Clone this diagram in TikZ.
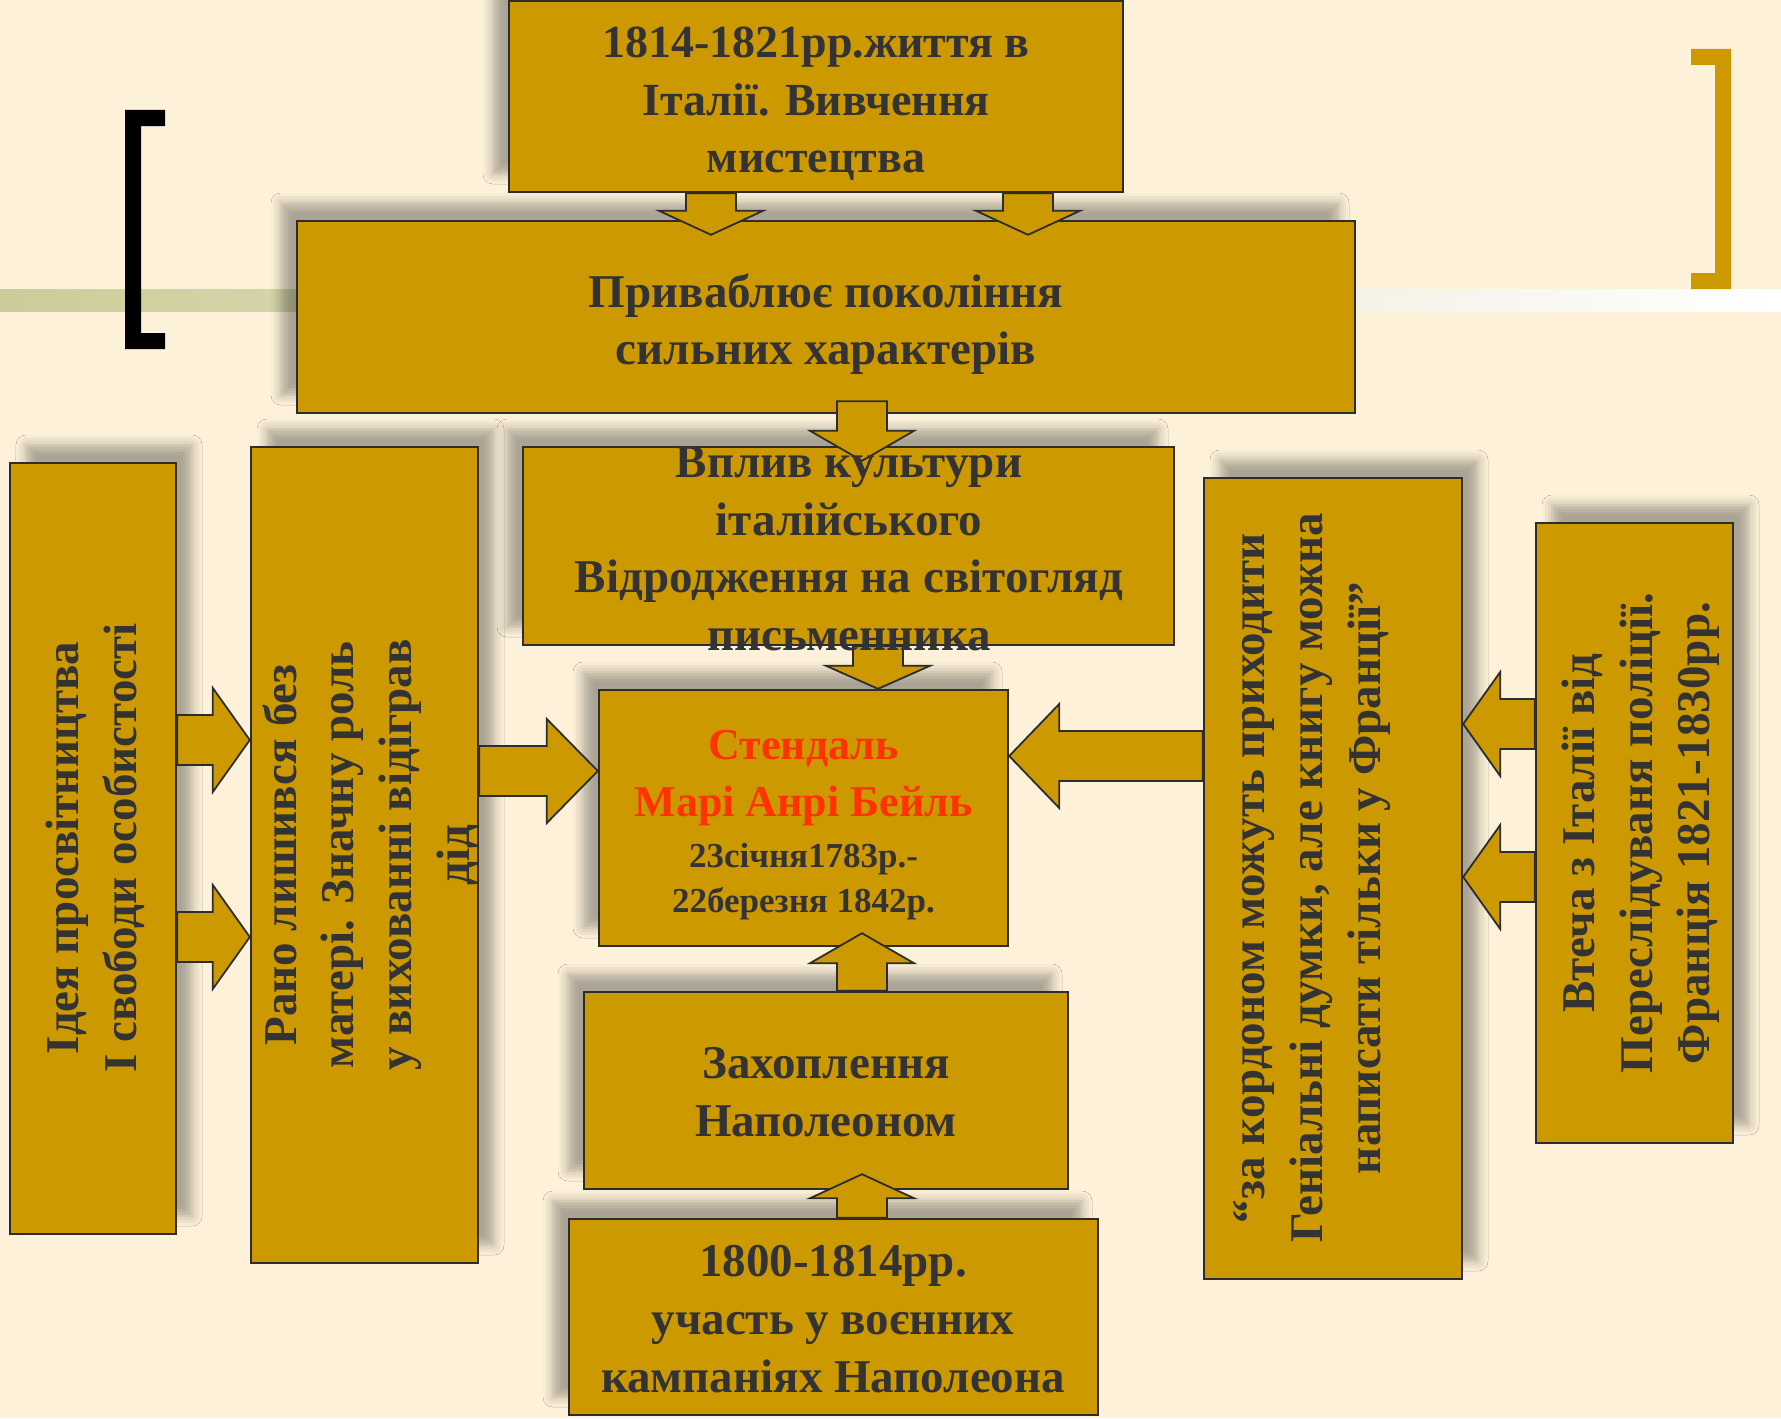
\documentclass[tikz,border=0pt]{standalone}
\usepackage{fontspec}
\setmainfont{Liberation Serif}
\usetikzlibrary{calc,shadows.blur}

\definecolor{bg}{RGB}{253,241,218}
\definecolor{gold}{RGB}{204,153,0}
\definecolor{olive}{RGB}{204,204,153}
\definecolor{ink}{RGB}{51,51,51}
\definecolor{redname}{RGB}{255,51,0}
\definecolor{edge}{RGB}{45,45,45}

\tikzset{
  box/.style={draw=edge, line width=1.2pt, fill=gold, inner sep=0pt, rectangle},
  shL/.style={blur shadow={shadow xshift=-8pt, shadow yshift=9pt, shadow blur radius=5pt, shadow opacity=32}},
  shR/.style={blur shadow={shadow xshift=8pt, shadow yshift=9pt, shadow blur radius=5pt, shadow opacity=32}},
  txt/.style={text=ink, font=\fontsize{23.5pt}{28.8pt}\selectfont\bfseries, align=center, inner sep=0pt},
  barrow/.style={draw=edge, line width=0.9pt, fill=gold, line join=miter},
}

\newcommand\blockarr[3]{%
  \coordinate (hb) at ($(#2)!#3!(#1)$);
  \draw[barrow] ($(#1)!12.5pt!90:(#2)$) -- ($(hb)!12.5pt!90:(#2)$) -- ($(hb)!26pt!90:(#2)$)
    -- (#2) -- ($(hb)!26pt!-90:(#2)$) -- ($(hb)!12.5pt!-90:(#2)$) -- ($(#1)!12.5pt!-90:(#2)$) -- cycle;}

\begin{document}
\begin{tikzpicture}[x=0.5pt,y=-0.5pt]
\useasboundingbox (0,0) rectangle (1781,1418);
\fill[bg] (0,0) rectangle (1781,1418);
\shade[left color=olive, right color=white] (0,289) rectangle (1781,311);

% brackets
\fill[black] (165,110) -- (125,110) -- (125,349) -- (165,349) -- (165,333) -- (141,333) -- (141,126) -- (165,126) -- cycle;
\fill[gold] (1691,49) -- (1731,49) -- (1731,289) -- (1691,289) -- (1691,273) -- (1715,273) -- (1715,65) -- (1691,65) -- cycle;

% boxes
\node[box,shL,minimum width=307pt,minimum height=95.5pt] (top) at (816,96.5) {};
\node[box,shL,minimum width=529pt,minimum height=96pt] (priv) at (826,317) {};
\node[box,shL,minimum width=325.5pt,minimum height=99pt] (vplyv) at (848.5,546) {};
\node[box,shL,minimum width=204.5pt,minimum height=128pt] (stend) at (803.5,818) {};
\node[box,shL,minimum width=242pt,minimum height=98.5pt] (zakh) at (826,1090.5) {};
\node[box,shL,minimum width=264.5pt,minimum height=98pt] (y1800) at (833.5,1317) {};
\node[box,shR,minimum width=83pt,minimum height=385.5pt] (ideya) at (93,848.5) {};
\node[box,shR,minimum width=113.5pt,minimum height=408pt] (rano) at (364.5,855) {};
\node[box,shR,minimum width=129pt,minimum height=400.5pt] (kordon) at (1333,878.5) {};
\node[box,shR,minimum width=98.5pt,minimum height=310pt] (vtecha) at (1634.5,833) {};

% arrow guide coordinates
\coordinate (xa) at (711,0);
\coordinate (xb) at (1028,0);
\coordinate (xc) at (862,0);
\coordinate (xd) at (878,0);
\coordinate (ya) at (0,740);
\coordinate (yb) at (0,937);
\coordinate (yc) at (0,771);
\coordinate (yd) at (0,756);
\coordinate (ye) at (0,724);
\coordinate (yf) at (0,877);

% block arrows
\coordinate (s1) at (top.south -| xa);
\coordinate (t1) at ($(priv.north -| xa)+(0,-7.5pt)$);
\blockarr{s1}{t1}{12pt}
\coordinate (s2) at (top.south -| xb);
\coordinate (t2) at ($(priv.north -| xb)+(0,-7.5pt)$);
\blockarr{s2}{t2}{12pt}
\coordinate (s3) at ($(priv.south -| xc)+(0,6.5pt)$);
\coordinate (t3) at ($(vplyv.north -| xc)+(0,-7.5pt)$);
\blockarr{s3}{t3}{15pt}
\coordinate (s4) at (vplyv.south -| xd);
\coordinate (t4) at (stend.north -| xd);
\blockarr{s4}{t4}{11.5pt}
\coordinate (s5) at (zakh.north -| xc);
\coordinate (t5) at ($(stend.south -| xc)+(0,7pt)$);
\blockarr{s5}{t5}{15pt}
\coordinate (s6) at (y1800.north -| xc);
\coordinate (t6) at ($(zakh.south -| xc)+(0,8pt)$);
\blockarr{s6}{t6}{12pt}
\coordinate (s7) at (ideya.east |- ya);
\coordinate (t7) at (rano.west |- ya);
\blockarr{s7}{t7}{18.5pt}
\coordinate (s8) at (ideya.east |- yb);
\coordinate (t8) at (rano.west |- yb);
\blockarr{s8}{t8}{18.5pt}
\coordinate (s9) at (rano.east |- yc);
\coordinate (t9) at (stend.west |- yc);
\blockarr{s9}{t9}{25.5pt}
\coordinate (s10) at (kordon.west |- yd);
\coordinate (t10) at (stend.east |- yd);
\blockarr{s10}{t10}{25pt}
\coordinate (s11) at (vtecha.west |- ye);
\coordinate (t11) at (kordon.east |- ye);
\blockarr{s11}{t11}{18.5pt}
\coordinate (s12) at (vtecha.west |- yf);
\coordinate (t12) at (kordon.east |- yf);
\blockarr{s12}{t12}{18.5pt}

% texts
\node[txt, font=\fontsize{23pt}{28.8pt}\selectfont\bfseries] (toptext) at (816,104) {1814-1821рр.життя в\\Італії. Вивчення\\мистецтва};
\node[txt] (privtext) at (826,324) {Приваблює покоління\\сильних характерів};
\node[txt] (vplyvtext) at (849,549) {Вплив культури\\італійського\\Відродження на світогляд\\письменника};
\node[txt, text=redname, font=\fontsize{22pt}{28.5pt}\selectfont\bfseries] (stendname) at (803.5,778) {Стендаль\\Марі Анрі Бейль};
\node[txt, font=\fontsize{17.5pt}{22.5pt}\selectfont\bfseries] (stenddate) at (803.5,882) {23січня1783р.-\\22березня 1842р.};
\node[txt] (zakhtext) at (826,1092) {Захоплення\\Наполеоном};
\node[txt] (y1800text) at (833,1319) {1800-1814рр.\\участь у воєнних\\кампаніях Наполеона};
\node[txt, rotate=90] (ideyatext) at (95,848) {Ідея просвітництва\\І свободи особистості};
\node[txt, rotate=90] (ranotext) at (370,855) {Рано лишився без\\матері. Значну роль\\у вихованні відіграв\\дід};
\node[txt, rotate=90] (kordontext) at (1312,878) {“за кордоном можуть приходити\\Геніальні думки, але книгу можна\\написати тільки у Франції”};
\node[txt, rotate=90] (vtechatext) at (1641,833) {Втеча з Італії від\\Переслідуваня поліції.\\Франція 1821-1830рр.};
\end{tikzpicture}
\end{document}
